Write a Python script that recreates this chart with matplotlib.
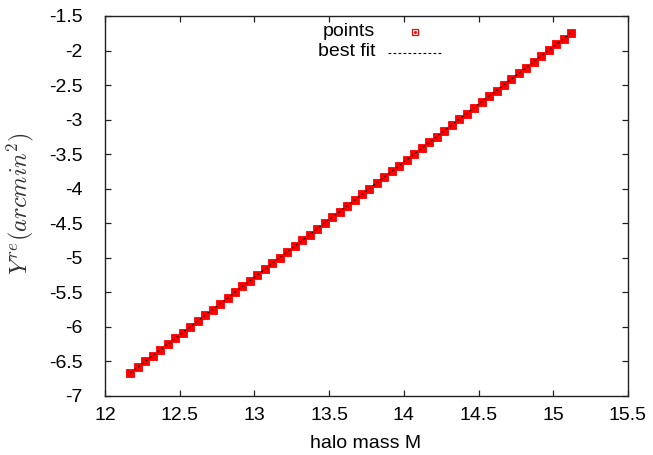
import matplotlib
matplotlib.use("Agg")
import matplotlib.pyplot as plt
import numpy as np

# data
mass = [12.17, 12.22, 12.27, 12.32, 12.37, 12.42, 12.47, 12.52, 12.57, 12.62,
        12.67, 12.72, 12.77, 12.82, 12.87, 12.92, 12.97, 13.02, 13.07, 13.12,
        13.17, 13.22, 13.27, 13.32, 13.37, 13.42, 13.47, 13.52, 13.57, 13.62,
        13.67, 13.72, 13.77, 13.82, 13.87, 13.92, 13.97, 14.02, 14.07, 14.12,
        14.17, 14.22, 14.27, 14.32, 14.37, 14.42, 14.47, 14.52, 14.57, 14.62,
        14.67, 14.72, 14.77, 14.82, 14.87, 14.92, 14.97, 15.02, 15.07, 15.12]
yre = [-6.666, -6.583, -6.499, -6.416, -6.332, -6.249, -6.166, -6.082, -5.999, -5.915,
       -5.832, -5.749, -5.665, -5.582, -5.498, -5.415, -5.332, -5.248, -5.165, -5.081,
       -4.998, -4.915, -4.831, -4.748, -4.664, -4.581, -4.498, -4.414, -4.331, -4.247,
       -4.164, -4.081, -3.997, -3.914, -3.830, -3.747, -3.664, -3.580, -3.497, -3.413,
       -3.330, -3.247, -3.163, -3.080, -2.996, -2.913, -2.830, -2.746, -2.663, -2.579,
       -2.496, -2.413, -2.329, -2.246, -2.162, -2.079, -1.996, -1.912, -1.829, -1.745]
xticks = [12, 12.5, 13, 13.5, 14, 14.5, 15, 15.5]
yticks = [-7, -6.5, -6, -5.5, -5, -4.5, -4, -3.5, -3, -2.5, -2, -1.5]

plt.rcParams['font.family'] = ['Liberation Sans', 'DejaVu Sans']
plt.rcParams['mathtext.fontset'] = 'cm'
FS = 14

fig = plt.figure(figsize=(6.53, 4.55), dpi=100)
ax = fig.add_axes([105/653, 1-396/455, (628-105)/653, (396-16)/455])

x = np.array(mass)
y = np.array(yre)
ax.plot(x, y, linestyle='none', marker='s', markersize=6.1,
        markerfacecolor='#ff0000', markeredgecolor='#ff0000', markeredgewidth=0.6,
        zorder=2)
coef = np.polyfit(x, y, 1)
ax.plot(x, np.polyval(coef, x), color='black', lw=0.7, dashes=[2.5, 2.5], zorder=3)

ax.set_xlim(12, 15.5)
ax.set_ylim(-7, -1.5)
ax.set_xticks(xticks)
ax.set_xticklabels([f"{t:g}" for t in xticks])
ax.set_yticks(yticks)
ax.set_yticklabels([f"{t:g}" for t in yticks])
ax.tick_params(direction='in', top=True, right=True, length=4.5, width=0.9,
               labelsize=FS, colors='#222222', labelcolor='black')
ax.tick_params(axis='x', pad=8)
ax.tick_params(axis='y', pad=16)
for s in ax.spines.values():
    s.set_linewidth(1.0)
    s.set_color('#222222')

fig.text(366/653, 1-443/455, 'halo mass M', ha='center', va='center', fontsize=FS)
fig.text(20/653, 1-204/455, r'$Y^{re}(arcmin^2)$', rotation=90, ha='center',
         va='center', fontsize=17.5, color='#333333')

# gnuplot-style key
def px2ax(px, py):
    return ((px-105)/523, (396-py)/380)

tx, ty = px2ax(375, 32)
ax.text(tx, ty, 'points', transform=ax.transAxes, ha='right', va='center', fontsize=FS)
mx, my = px2ax(415, 32)
ax.plot([mx], [my], transform=ax.transAxes, marker='s', markersize=4,
        markerfacecolor='none', markeredgecolor='#ff0000', markeredgewidth=0.9,
        linestyle='none', clip_on=False)
ax.plot([mx], [my], transform=ax.transAxes, marker='s', markersize=1,
        color='#ff0000', linestyle='none', clip_on=False)
tx, ty = px2ax(375, 52)
ax.text(tx, ty, 'best fit', transform=ax.transAxes, ha='right', va='center', fontsize=FS)
l0, ly = px2ax(388, 53)
l1, _ = px2ax(443, 53)
ax.plot([l0, l1], [ly, ly], transform=ax.transAxes, color='black', lw=0.8,
        dashes=[2.5, 2], clip_on=False)

fig.savefig('out.png', dpi=100)
